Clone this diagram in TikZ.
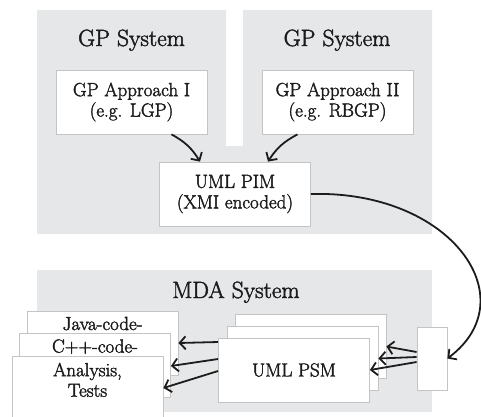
\documentclass[tikz,border=0pt]{standalone}
\usepackage{fontspec}
\newfontfamily\diagfont{Latin Modern Roman}[FakeBold=2]
\usepackage{tikz}
\usetikzlibrary{shapes, positioning, arrows.meta}

\definecolor{sysgray}{HTML}{E6E7E8}
\definecolor{linegray}{HTML}{C4C4C4}
\definecolor{inkgray}{HTML}{1C1C1C}

\begin{document}
\begin{tikzpicture}[
    x=1pt, y=-1pt,
    system/.style={rectangle, draw=none, fill=none, text=inkgray, anchor=base,
        inner sep=0pt, font=\diagfont\fontsize{23.5}{26}\selectfont},
    model/.style={rectangle, draw=linegray, line width=0.8pt, fill=white,
        text centered, align=center, text=inkgray, inner sep=0pt,
        minimum width=151pt, minimum height=64pt,
        font=\diagfont\fontsize{19}{20.5}\selectfont},
    outtext/.style={rectangle, draw=none, fill=none, anchor=north, align=center,
        text=inkgray, inner sep=0pt, font=\diagfont\fontsize{19}{20.5}\selectfont},
    flow/.style={-{Straight Barb[length=6pt, width=13pt]}, line width=1.8pt, draw=inkgray}
]
\useasboundingbox (0,0) rectangle (481,416);
% system areas
\fill[sysgray] (37,10) -- (226,10) -- (226,146) -- (243,146) -- (243,10) -- (432,10)
    -- (432,234) -- (37,234) -- cycle;
\fill[sysgray] (37,270) rectangle (432,412);

\node (Sys01) [system] at (131.5,46) {GP System};
\node (Sys02) [system] at (337,46) {GP System};
\node (Sys03) [system] at (236,298) {MDA System};

\node (App01) [model] at (131.5,102) {GP Approach I\\(e.g. LGP)};
\node (App02) [model] at (337.5,102) {GP Approach II\\(e.g. RBGP)};
\node (PIM00) [model] at (235,194) {UML PIM\\(XMI encoded)};

% outputs
\node (Out01) [model] at (102.5,343) {};
\node (Out01t) [outtext] at ([yshift=-6pt]Out01.north) {Java-code-};
\node (Out02) [model] at (95,365) {};
\node (Out02t) [outtext] at ([yshift=-6.5pt]Out02.north) {C++-code-};
\node (Out03) [model] at (87.5,388) {};
\node (Out03t) [outtext] at ([yshift=-7pt]Out03.north) {Analysis,\\Tests};

% PSM stack
\node (PSM03) [model] at (310.5,346.5) {};
\node (PSM02) [model] at (302.5,358.5) {};
\node (PSM01) [model] at (294,370) {UML PSM};

\node (TP00) [model, minimum width=30pt, minimum height=63pt] at (432,358.5) {};

\draw[flow] ([xshift=40pt]App01.south) to[bend left=15] ([xshift=-35pt]PIM00.north);
\draw[flow] ([xshift=-40pt]App02.south) to[bend right=15] ([xshift=33pt]PIM00.north);
\draw[flow] (PIM00.east) .. controls +(140,-4) and +(80,-60) .. (TP00.east);

\draw[flow] ([yshift=6.5pt]TP00.west) -- (PSM03.east);
\draw[flow] ([yshift=1.5pt]TP00.west) -- (PSM02.east);
\draw[flow] ([yshift=-3.5pt]TP00.west) -- (PSM01.east);

\draw[flow] ([yshift=28pt]PSM01.west) -- (Out01.east);
\draw[flow] ([yshift=11pt]PSM01.west) -- ([yshift=-1pt]Out02.east);
\draw[flow] ([yshift=-1pt]PSM01.west) -- (Out03.east);
\end{tikzpicture}
\end{document}
